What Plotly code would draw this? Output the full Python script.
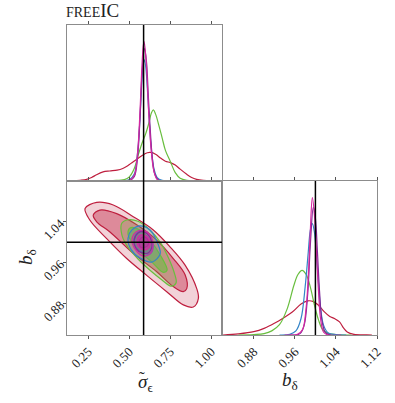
"""
Corner plot (freeIC): marginal of sigma_eps, joint contours, marginal of b_delta
"""
import plotly.graph_objects as go

# ---- data ----
truth_sig = 0.587
truth_b = 1.0

# 1D marginal of sigma_eps (peak of magenta = 1)
sig_red_x = [0.15, 0.20, 0.24, 0.27, 0.30, 0.34, 0.38, 0.425, 0.46, 0.49, 0.52, 0.55, 0.58, 0.61, 0.63,
             0.66, 0.69, 0.72, 0.75, 0.78, 0.81, 0.85, 0.88, 0.91, 0.95, 1.00]
sig_red_y = [0.0, 0.005, 0.012, 0.025, 0.045, 0.065, 0.072, 0.078, 0.09, 0.11, 0.135, 0.16, 0.185, 0.203, 0.205,
             0.192, 0.165, 0.142, 0.132, 0.115, 0.085, 0.048, 0.025, 0.012, 0.004, 0.0]
sig_green_x = [0.30, 0.40, 0.47, 0.50, 0.53, 0.555, 0.58, 0.60, 0.62, 0.635, 0.647, 0.66, 0.68, 0.70, 0.72,
               0.75, 0.78, 0.81, 0.85, 0.95]
sig_green_y = [0.0, 0.003, 0.01, 0.03, 0.09, 0.19, 0.28, 0.34, 0.42, 0.49, 0.51, 0.48, 0.40, 0.31, 0.22,
               0.14, 0.06, 0.02, 0.005, 0.0]
sig_blue_x = [0.45, 0.50, 0.53, 0.55, 0.565, 0.575, 0.585, 0.592, 0.60, 0.61, 0.62, 0.635, 0.65, 0.67, 0.70, 0.75]
sig_blue_y = [0.0, 0.01, 0.05, 0.2, 0.45, 0.68, 0.84, 0.87, 0.82, 0.66, 0.46, 0.22, 0.09, 0.025, 0.005, 0.0]
sig_purple_x = [0.50, 0.53, 0.55, 0.565, 0.578, 0.593, 0.605, 0.615, 0.625, 0.64, 0.655, 0.68, 0.72]
sig_purple_y = [0.0, 0.03, 0.17, 0.45, 0.78, 0.95, 0.85, 0.63, 0.42, 0.17, 0.05, 0.005, 0.0]
sig_mag_x = [0.45, 0.50, 0.53, 0.55, 0.565, 0.575, 0.585, 0.59, 0.60, 0.61, 0.62, 0.635, 0.65, 0.67, 0.70, 0.75]
sig_mag_y = [0.0, 0.005, 0.04, 0.2, 0.5, 0.78, 0.97, 1.0, 0.9, 0.7, 0.45, 0.2, 0.07, 0.01, 0.0, 0.0]

# 1D marginal of b_delta
b_red_x = [0.82, 0.85, 0.88, 0.90, 0.92, 0.94, 0.955, 0.972, 0.985, 0.995, 1.005, 1.017, 1.028, 1.037,
           1.047, 1.055, 1.062, 1.075, 1.10, 1.11]
b_red_y = [0.0, 0.008, 0.024, 0.048, 0.085, 0.13, 0.167, 0.225, 0.248, 0.245, 0.22, 0.17, 0.135, 0.12,
           0.095, 0.05, 0.022, 0.005, 0.001, 0.0]
b_green_x = [0.85, 0.88, 0.90, 0.915, 0.93, 0.945, 0.958, 0.966, 0.974, 0.982, 0.99, 0.998, 1.006, 1.014,
             1.025, 1.04, 1.07]
b_green_y = [0.0, 0.003, 0.01, 0.03, 0.075, 0.19, 0.36, 0.44, 0.47, 0.44, 0.35, 0.22, 0.11, 0.04,
             0.012, 0.003, 0.0]
b_blue_x = [0.93, 0.95, 0.962, 0.972, 0.98, 0.986, 0.99, 0.994, 0.998, 1.002, 1.006, 1.01, 1.016, 1.025,
            1.04, 1.06]
b_blue_y = [0.0, 0.005, 0.03, 0.12, 0.35, 0.6, 0.76, 0.81, 0.75, 0.58, 0.38, 0.2, 0.07, 0.015, 0.003, 0.0]
b_purple_x = [0.95, 0.97, 0.978, 0.985, 0.99, 0.996, 1.0, 1.004, 1.008, 1.013, 1.02, 1.03]
b_purple_y = [0.0, 0.01, 0.07, 0.3, 0.65, 0.93, 0.85, 0.6, 0.32, 0.1, 0.015, 0.0]
b_mag_x = [0.94, 0.965, 0.975, 0.982, 0.986, 0.99, 0.994, 0.998, 1.002, 1.006, 1.01, 1.016, 1.025, 1.05]
b_mag_y = [0.0, 0.005, 0.04, 0.2, 0.42, 0.75, 1.0, 0.88, 0.6, 0.32, 0.12, 0.02, 0.0, 0.0]

# 2D contours (outline points, sigma_eps vs b_delta)
red95_x = [0.230, 0.301, 0.402, 0.524, 0.646, 0.748, 0.840, 0.911, 0.921, 0.890, 0.829, 0.728, 0.606,
           0.484, 0.362, 0.260]
red95_y = [1.066, 1.078, 1.073, 1.050, 1.024, 0.991, 0.955, 0.909, 0.890, 0.873, 0.877, 0.903, 0.935,
           0.968, 1.007, 1.043]
red68_x = [0.280, 0.321, 0.423, 0.545, 0.667, 0.768, 0.840, 0.850, 0.829, 0.768, 0.667, 0.524, 0.382, 0.301]
red68_y = [1.053, 1.063, 1.056, 1.034, 1.004, 0.968, 0.936, 0.909, 0.903, 0.913, 0.942, 0.978, 1.020, 1.040]
green95_x = [0.454, 0.492, 0.553, 0.626, 0.688, 0.736, 0.773, 0.785, 0.754, 0.699, 0.626, 0.553, 0.492, 0.455]
green95_y = [1.037, 1.044, 1.041, 1.024, 1.000, 0.971, 0.941, 0.920, 0.914, 0.926, 0.945, 0.967, 0.990, 1.014]
green68_x = [0.504, 0.565, 0.626, 0.688, 0.730, 0.706, 0.638, 0.565, 0.516, 0.492]
green68_y = [1.028, 1.024, 1.004, 0.975, 0.945, 0.941, 0.961, 0.981, 1.000, 1.016]
blue95_x = [0.492, 0.516, 0.565, 0.626, 0.675, 0.688, 0.638, 0.565, 0.510]
blue95_y = [1.008, 1.024, 1.032, 1.024, 0.996, 0.977, 0.961, 0.969, 0.986]
blue68_x = [0.529, 0.547, 0.590, 0.632, 0.645, 0.626, 0.584, 0.541]
blue68_y = [1.004, 1.018, 1.022, 1.008, 0.990, 0.977, 0.979, 0.988]
purple95_x = [0.529, 0.553, 0.590, 0.626, 0.638, 0.614, 0.578, 0.541]
purple95_y = [1.004, 1.018, 1.020, 1.010, 0.992, 0.979, 0.979, 0.988]
purple68_x = [0.559, 0.571, 0.596, 0.614, 0.614, 0.596, 0.571]
purple68_y = [0.999, 1.008, 1.010, 1.004, 0.994, 0.990, 0.990]
mag95_x = [0.516, 0.541, 0.584, 0.626, 0.645, 0.626, 0.584, 0.541]
mag95_y = [1.004, 1.020, 1.023, 1.014, 0.994, 0.977, 0.973, 0.984]
mag68_x = [0.547, 0.559, 0.590, 0.620, 0.626, 0.608, 0.578, 0.553]
mag68_y = [1.001, 1.012, 1.014, 1.006, 0.994, 0.986, 0.986, 0.992]

sig_ticks = [0.25, 0.50, 0.75, 1.00]
b_ticks = [0.88, 0.96, 1.04, 1.12]

RED = "rgb(190,30,62)"
GREEN = "rgb(104,190,62)"
BLUE = "rgb(52,132,200)"
PURPLE = "rgb(125,40,150)"
MAG = "rgb(212,40,160)"

FONT = "Liberation Serif"
FRAME = "#8c8c8c"


def closed(a):
    return list(a) + [a[0]]


fig = go.Figure()

# joint contours: outer then inner for each run
contours = [
    (red95_x, red95_y, red68_x, red68_y, RED, "rgba(190,30,62,0.2)", "rgba(190,30,62,0.4)"),
    (green95_x, green95_y, green68_x, green68_y, GREEN, "rgba(104,190,62,0.22)", "rgba(104,190,62,0.55)"),
    (blue95_x, blue95_y, blue68_x, blue68_y, BLUE, "rgba(52,132,200,0.15)", "rgba(52,132,200,0.3)"),
    (purple95_x, purple95_y, purple68_x, purple68_y, PURPLE, "rgba(125,40,150,0.12)", "rgba(125,40,150,0.3)"),
    (mag95_x, mag95_y, mag68_x, mag68_y, MAG, "rgba(212,40,160,0.15)", "rgba(212,40,160,0.55)"),
]
for ox, oy, ix, iy, col, f_out, f_in in contours:
    for xs, ys, fc in ((ox, oy, f_out), (ix, iy, f_in)):
        fig.add_trace(go.Scatter(
            x=closed(xs), y=closed(ys), mode="lines", fill="toself", fillcolor=fc,
            line=dict(color=col, width=1.2, shape="spline", smoothing=1.0),
            xaxis="x2", yaxis="y2", hoverinfo="skip"))

# marginals
marg_sig = [(sig_red_x, sig_red_y, RED), (sig_green_x, sig_green_y, GREEN), (sig_blue_x, sig_blue_y, BLUE),
            (sig_purple_x, sig_purple_y, PURPLE), (sig_mag_x, sig_mag_y, MAG)]
marg_b = [(b_red_x, b_red_y, RED), (b_green_x, b_green_y, GREEN), (b_blue_x, b_blue_y, BLUE),
          (b_purple_x, b_purple_y, PURPLE), (b_mag_x, b_mag_y, MAG)]
for xs, ys, col in marg_sig:
    fig.add_trace(go.Scatter(x=xs, y=ys, mode="lines", line=dict(color=col, width=1.2, shape="spline"),
                             xaxis="x", yaxis="y", hoverinfo="skip"))
for xs, ys, col in marg_b:
    fig.add_trace(go.Scatter(x=xs, y=ys, mode="lines", line=dict(color=col, width=1.2, shape="spline"),
                             xaxis="x3", yaxis="y3", hoverinfo="skip"))

# truth lines
shapes = [
    dict(type="line", xref="x", yref="y domain", x0=truth_sig, x1=truth_sig, y0=0, y1=1),
    dict(type="line", xref="x2", yref="y2 domain", x0=truth_sig, x1=truth_sig, y0=0, y1=1),
    dict(type="line", xref="x2 domain", yref="y2", x0=0, x1=1, y0=truth_b, y1=truth_b),
    dict(type="line", xref="x3", yref="y3 domain", x0=truth_b, x1=truth_b, y0=0, y1=1),
]
for s in shapes:
    s["line"] = dict(color="black", width=1.5)

W, H = 395, 403
xl, xm, xr = 67 / W, 222 / W, 377 / W
yt, ym, yb = 1 - 25 / H, 1 - 181 / H, 1 - 335 / H

sig_range = [0.12, 1.065]
b_range = [0.818, 1.12]
tickfont = dict(family=FONT, size=13, color="#222")
common = dict(showline=True, linecolor=FRAME, linewidth=1, showgrid=False, zeroline=False,
              ticklen=3, tickcolor="#555", tickfont=tickfont, automargin=False)

fig.update_layout(
    width=W, height=H,
    margin=dict(l=0, r=0, t=0, b=0),
    paper_bgcolor="white", plot_bgcolor="white",
    showlegend=False,
    shapes=shapes,
    xaxis=dict(domain=[xl, xm], range=sig_range, anchor="y", side="top", ticks="outside",
               tickvals=sig_ticks, showticklabels=False, mirror=True, **common),
    yaxis=dict(domain=[ym, yt], range=[0, 1.12], anchor="x", ticks="", showticklabels=False,
               mirror=True, **common),
    xaxis2=dict(domain=[xl, xm], range=sig_range, anchor="y2", ticks="outside", tickvals=sig_ticks,
                ticktext=[f"{v:.2f}" for v in sig_ticks], tickangle=-45, mirror="ticks", **common),
    yaxis2=dict(domain=[yb, ym], range=b_range, anchor="x2", ticks="outside", tickvals=b_ticks[:3],
                ticktext=[f"{v:.2f}" for v in b_ticks[:3]], tickangle=-45, mirror=True, **common),
    xaxis3=dict(domain=[xm, xr], range=b_range, anchor="y3", ticks="outside", tickvals=b_ticks,
                ticktext=[f"{v:.2f}" for v in b_ticks], tickangle=-45, mirror="ticks", **common),
    yaxis3=dict(domain=[yb, ym], range=[0, 1.12], anchor="x3", ticks="", showticklabels=False,
                mirror=True, **common),
)

# labels
lab_font = dict(family=FONT, size=19, color="#222")
fig.add_annotation(text="<i>σ</i><sub>ϵ</sub>", x=145 / W, y=1 - 397 / H, xref="paper", yref="paper",
                   showarrow=False, font=lab_font)
fig.add_annotation(text="˜", x=142 / W, y=1 - 389 / H, xref="paper", yref="paper",
                   showarrow=False, font=dict(family=FONT, size=17, color="#222"))
fig.add_annotation(text="<i>b</i><sub>δ</sub>", x=300 / W, y=1 - 395 / H, xref="paper", yref="paper",
                   showarrow=False, font=lab_font)
fig.add_annotation(text="<i>b</i><sub>δ</sub>", x=13 / W, y=1 - 257 / H, xref="paper", yref="paper",
                   showarrow=False, textangle=-90, font=lab_font)
fig.add_annotation(text="<span style='font-size:14px'>FREE</span>IC", x=64 / W, y=1 - 23 / H,
                   xref="paper", yref="paper", xanchor="left", yanchor="bottom", showarrow=False,
                   font=lab_font)

# the page body has a default margin; drop it so the figure sits at the window corner
fig.write_html("out.html", config={"displayModeBar": False},
               post_script="document.body.style.margin='0';")
